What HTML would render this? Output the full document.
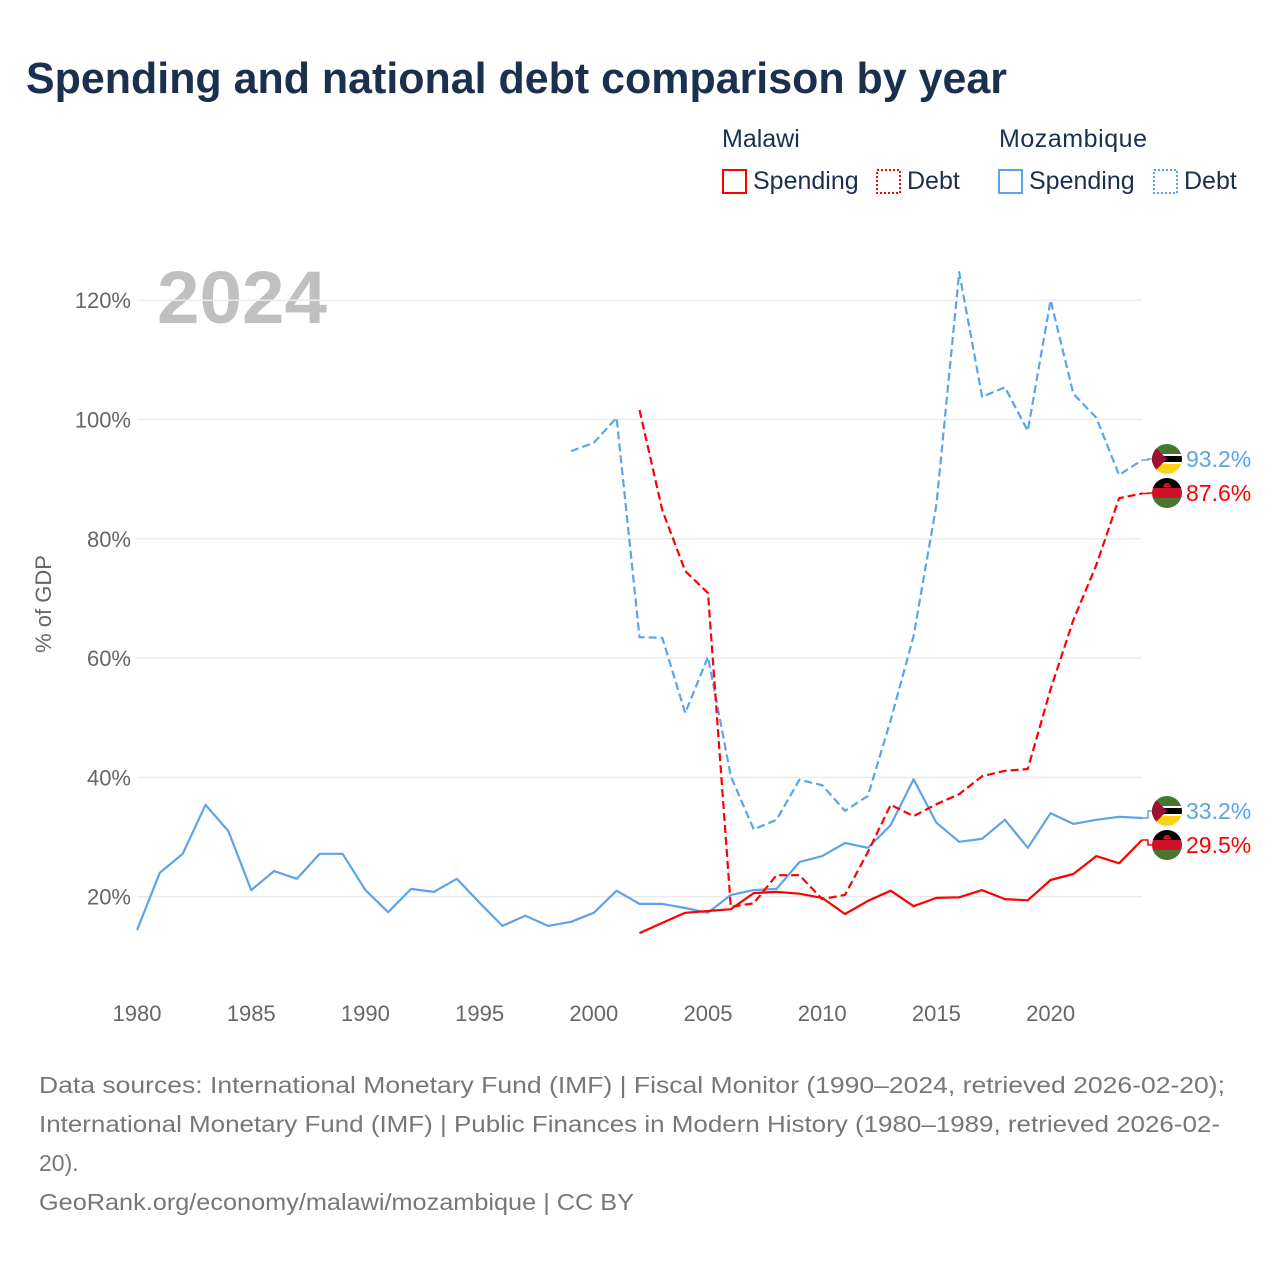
<!DOCTYPE html>
<html><head><meta charset="utf-8">
<style>
body{margin:0;background:#fff;font-family:"Liberation Sans",sans-serif;}
#wrap{position:relative;width:1280px;height:1280px;overflow:hidden;}
</style></head>
<body>
<div id="wrap">
<svg id="chart" width="1280" height="1280" xmlns="http://www.w3.org/2000/svg">
<text x="26" y="93" font-size="44" font-weight="bold" fill="#1b2f4e" textLength="981" lengthAdjust="spacingAndGlyphs">Spending and national debt comparison by year</text>
<g font-size="25" fill="#1b2f4e">
<text x="722" y="147">Malawi</text>
<text x="999" y="147" textLength="148">Mozambique</text>
<g><rect x="723" y="170" width="23" height="23" fill="none" stroke="#ff0000" stroke-width="2"/><text x="753" y="189">Spending</text></g>
<g><rect x="877" y="170" width="23" height="23" fill="none" stroke="#ff0000" stroke-width="2" stroke-dasharray="2,2"/><text x="907" y="189">Debt</text></g>
<g><rect x="999" y="170" width="23" height="23" fill="none" stroke="#5ba4ea" stroke-width="2"/><text x="1029" y="189">Spending</text></g>
<g><rect x="1154" y="170" width="23" height="23" fill="none" stroke="#5ba4ea" stroke-width="2" stroke-dasharray="2,2"/><text x="1184" y="189">Debt</text></g>
</g>
<text x="157" y="323" font-size="74" font-weight="bold" fill="#c0c0c0" textLength="170" lengthAdjust="spacingAndGlyphs">2024</text>
<text transform="translate(51,604) rotate(-90)" text-anchor="middle" font-size="22" fill="#666">% of GDP</text>
<g id="grid"></g><g id="yt"></g><g id="xt"></g><g id="lines"></g><g id="ends"></g>
<g font-size="23" fill="#777">
<text x="39" y="1093" textLength="1186" lengthAdjust="spacingAndGlyphs">Data sources: International Monetary Fund (IMF) | Fiscal Monitor (1990–2024, retrieved 2026-02-20);</text>
<text x="39" y="1132" textLength="1181" lengthAdjust="spacingAndGlyphs">International Monetary Fund (IMF) | Public Finances in Modern History (1980–1989, retrieved 2026-02-</text>
<text x="39" y="1171">20).</text>
<text x="39" y="1210" textLength="595" lengthAdjust="spacingAndGlyphs">GeoRank.org/economy/malawi/mozambique | CC BY</text>
</g>
</svg>
</div>
<script>
const yTicks=[20,40,60,80,100,120];
const xTicks=[1980,1985,1990,1995,2000,2005,2010,2015,2020];
const mozSpendYears=[1980,1981,1982,1983,1984,1985,1986,1987,1988,1989,1990,1991,1992,1993,1994,1995,1996,1997,1998,1999,2000,2001,2002,2003,2004,2005,2006,2007,2008,2009,2010,2011,2012,2013,2014,2015,2016,2017,2018,2019,2020,2021,2022,2023,2024];
const mozSpend=[14.4,24,27.2,35.4,31,21.1,24.3,23,27.2,27.2,21.1,17.4,21.3,20.8,23,19,15.1,16.8,15.1,15.8,17.3,21,18.8,18.8,18.1,17.3,20.3,21.1,21.3,25.8,26.8,29,28.2,32,39.7,32.4,29.2,29.7,32.9,28.2,34,32.2,32.9,33.4,33.2];
const mozDebtYears=[1999,2000,2001,2002,2003,2004,2005,2006,2007,2008,2009,2010,2011,2012,2013,2014,2015,2016,2017,2018,2019,2020,2021,2022,2023,2024];
const mozDebt=[94.7,96.1,100.3,63.5,63.4,50.8,60.2,40.2,31.3,32.9,39.6,38.7,34.4,36.9,49.6,63.7,85.7,124.7,103.8,105.4,98.1,120,104.3,100.3,90.7,93.2];
const mwYears=[2002,2003,2004,2005,2006,2007,2008,2009,2010,2011,2012,2013,2014,2015,2016,2017,2018,2019,2020,2021,2022,2023,2024];
const mwSpend=[13.9,15.6,17.3,17.6,17.9,20.6,20.8,20.5,19.8,17.1,19.3,21,18.4,19.8,19.9,21.1,19.6,19.4,22.8,23.8,26.8,25.6,29.5];
const mwDebt=[101.6,84.8,74.6,70.9,18.3,18.9,23.6,23.6,19.6,20.3,27.5,35.4,33.5,35.5,37.2,40.2,41.1,41.4,54.8,66.4,75.6,86.8,87.6];

const NS="http://www.w3.org/2000/svg";
const X=y=>137+(y-1980)*22.84;
const Y=v=>1016-v*5.965;
function mk(tag,attrs,parent){const e=document.createElementNS(NS,tag);for(const k in attrs)e.setAttribute(k,attrs[k]);document.getElementById(parent).appendChild(e);return e;}
yTicks.forEach(t=>{
  const l=mk('line',{x1:137,x2:1142,y1:Y(t),y2:Y(t),stroke:'#ebebeb','stroke-width':1.5},'grid');
  
  
  const tx=mk('text',{x:131,y:Y(t)+8,'text-anchor':'end','font-size':22,fill:'#666'},'yt');
  tx.textContent=t+'%';
  
  
});
xTicks.forEach(t=>{
  const tx=mk('text',{x:X(t),y:1021,'text-anchor':'middle','font-size':22,fill:'#666'},'xt');
  tx.textContent=t;
  
  
});
function series(yrs,vals,color,dash,name){
  const d=yrs.map((y,i)=>(i?'L':'M')+X(y).toFixed(1)+','+Y(vals[i]).toFixed(1)).join(' ');
  const p=mk('path',{d:d,fill:'none',stroke:color,'stroke-width':2.2,'stroke-linejoin':'round'},'lines');
  if(dash)p.setAttribute('stroke-dasharray','8,4');
  
  
}
series(mozSpendYears,mozSpend,'#5ba4ea',false,'line-mozambique-spending');
series(mozDebtYears,mozDebt,'#5ba4ea',true,'line-mozambique-debt');
series(mwYears,mwSpend,'#ff0000',false,'line-malawi-spending');
series(mwYears,mwDebt,'#ff0000',true,'line-malawi-debt');

function endLabel(val,labelY,color,flag,name){
  const g=mk('g',{},'ends');
  
  
  const x0=X(2024),yv=Y(val);
  const p=document.createElementNS(NS,'path');
  p.setAttribute('d',`M${x0},${yv} L${x0+6},${yv} L${x0+6},${labelY} L1152,${labelY}`);
  p.setAttribute('stroke',color);p.setAttribute('fill','none');p.setAttribute('stroke-width','1.5');
  g.appendChild(p);
  const cx=1167,r=15;
  let inner='';
  if(flag==='mw'){
    inner=`<rect x="${cx-r}" y="${labelY-r}" width="30" height="10" fill="#000"/><rect x="${cx-r}" y="${labelY-5}" width="30" height="10" fill="#ce1126"/><rect x="${cx-r}" y="${labelY+5}" width="30" height="10" fill="#4a7530"/><path d="M${cx-4},${labelY-6} a4,4 0 0 1 8,0z" fill="#ce1126"/>`;
  }else{
    inner=`<rect x="${cx-r}" y="${labelY-r}" width="30" height="10" fill="#4a7530"/><rect x="${cx-r}" y="${labelY-5}" width="30" height="10" fill="#000"/><rect x="${cx-r}" y="${labelY-5}" width="30" height="2" fill="#fff"/><rect x="${cx-r}" y="${labelY+3}" width="30" height="2" fill="#fff"/><rect x="${cx-r}" y="${labelY+5}" width="30" height="10" fill="#fcd116"/><path d="M${cx-r},${labelY-r} L${cx},${labelY} L${cx-r},${labelY+r}z" fill="#a01030"/>`;
  }
  const cg=document.createElementNS(NS,'g');
  cg.innerHTML=`<clipPath id="c${name}"><circle cx="${cx}" cy="${labelY}" r="${r}"/></clipPath><g clip-path="url(#c${name})">${inner}</g>`;
  g.appendChild(cg);
  const t=document.createElementNS(NS,'text');
  t.setAttribute('x',1186);t.setAttribute('y',labelY+8);t.setAttribute('font-size',23);t.setAttribute('fill',color);
  t.textContent=val.toFixed(1)+'%';
  g.appendChild(t);
}
endLabel(mozDebt[mozDebt.length-1],459,'#5ba4ea','mz','end-label-mozambique-debt');
endLabel(mwDebt[mwDebt.length-1],493,'#ff0000','mw','end-label-malawi-debt');
endLabel(mozSpend[mozSpend.length-1],811,'#5ba4ea','mz','end-label-mozambique-spending');
endLabel(mwSpend[mwSpend.length-1],845,'#ff0000','mw','end-label-malawi-spending');
</script>
</body></html>
